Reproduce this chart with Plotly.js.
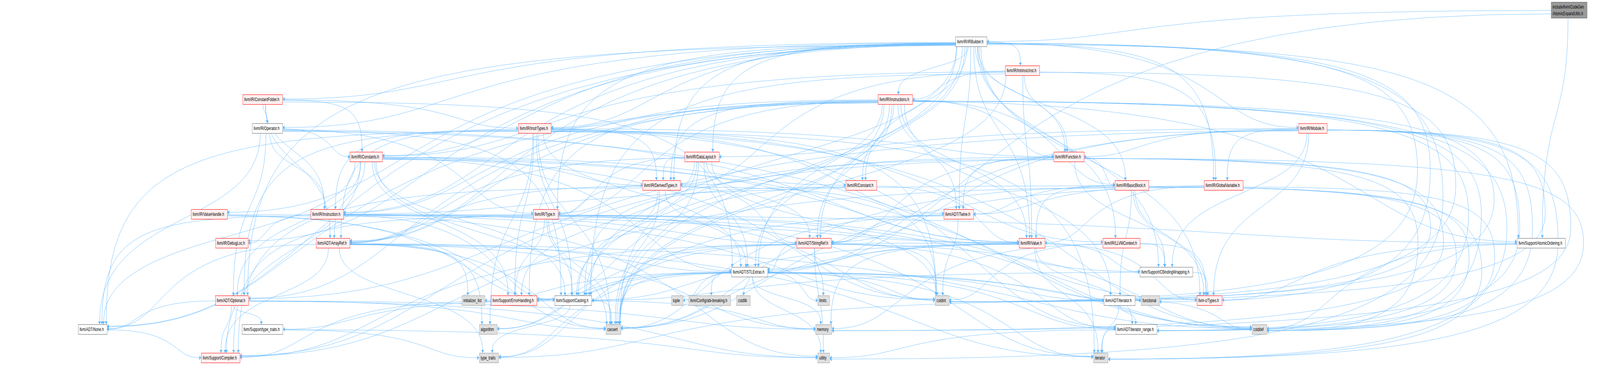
<!DOCTYPE html>
<html>
<head>
<meta charset="utf-8">
<script src="https://cdn.plot.ly/plotly-3.0.1.min.js"></script>
<style>
html, body { margin: 0; padding: 0; background: #fff; overflow: hidden; }
#graph { width: 6637px; height: 935px; transform-origin: 0 0; }
</style>
</head>
<body>
<div id="graph"></div>
<script>
// include graph of AtomicExpandUtils.h
const nodeIds = ['AEU', 'IRB', 'II', 'CF', 'INS', 'OP', 'IT', 'MOD', 'CS', 'DL', 'FN', 'DT', 'CO', 'BB', 'GV',
    'VH', 'IN', 'TY', 'TW', 'DLOC', 'AR', 'SR', 'VA', 'CTX', 'AO', 'STL', 'CBW', 'OPT', 'IL', 'EH', 'CA', 'TU',
    'ABI', 'CSL', 'LIM', 'CI', 'ITH', 'FUN', 'CT', 'NO', 'TTH', 'ALG', 'CAS', 'MEM', 'ITR', 'CD', 'COMP', 'TT',
    'UT', 'ITE'];

const nodeLabels = ['include/llvm/CodeGen<br>/AtomicExpandUtils.h', 'llvm/IR/IRBuilder.h', 'llvm/IR/IntrinsicInst.h',
    'llvm/IR/ConstantFolder.h', 'llvm/IR/Instructions.h', 'llvm/IR/Operator.h', 'llvm/IR/InstrTypes.h',
    'llvm/IR/Module.h', 'llvm/IR/Constants.h', 'llvm/IR/DataLayout.h', 'llvm/IR/Function.h',
    'llvm/IR/DerivedTypes.h', 'llvm/IR/Constant.h', 'llvm/IR/BasicBlock.h', 'llvm/IR/GlobalVariable.h',
    'llvm/IR/ValueHandle.h', 'llvm/IR/Instruction.h', 'llvm/IR/Type.h', 'llvm/ADT/Twine.h', 'llvm/IR/DebugLoc.h',
    'llvm/ADT/ArrayRef.h', 'llvm/ADT/StringRef.h', 'llvm/IR/Value.h', 'llvm/IR/LLVMContext.h',
    'llvm/Support/AtomicOrdering.h', 'llvm/ADT/STLExtras.h', 'llvm/Support/CBindingWrapping.h',
    'llvm/ADT/Optional.h', 'initializer_list', 'llvm/Support/ErrorHandling.h', 'llvm/Support/Casting.h', 'tuple',
    'llvm/Config/abi-breaking.h', 'cstdlib', 'limits', 'cstdint', 'llvm/ADT/iterator.h', 'functional',
    'llvm-c/Types.h', 'llvm/ADT/None.h', 'llvm/Support/type_traits.h', 'algorithm', 'cassert', 'memory',
    'llvm/ADT/iterator_range.h', 'cstddef', 'llvm/Support/Compiler.h', 'type_traits', 'utility', 'iterator'];

// root / plain / trunc (has more includes) / sys (system header)
const nodeKinds = ['root', 'plain', 'trunc', 'trunc', 'trunc', 'plain', 'trunc', 'trunc', 'trunc', 'trunc',
    'trunc', 'trunc', 'trunc', 'trunc', 'trunc', 'trunc', 'trunc', 'trunc', 'trunc', 'trunc', 'trunc', 'trunc',
    'trunc', 'trunc', 'plain', 'plain', 'plain', 'trunc', 'sys', 'trunc', 'plain', 'sys', 'sys', 'sys', 'sys',
    'sys', 'plain', 'sys', 'trunc', 'plain', 'plain', 'sys', 'sys', 'sys', 'plain', 'sys', 'trunc', 'sys', 'sys',
    'sys'];

// "file: included files"
const includes = [
    'AEU: STL IRB AO',
    'IRB: CT AR NO OPT STL SR TW BB CO CF CS DL DLOC DT FN GV IT IN INS II CTX MOD OP TY VA VH AO CBW CA CAS CI FUN UT',
    'II: CS DT FN GV INS VA CA CAS CI',
    'CF: AR STL CS IT IN OP',
    'INS: AR NO OPT STL SR TW ITH ITR BB CO DT FN IT IN TY VA AO CA EH CAS CD CI ITE',
    'OP: NO OPT CS IN TY VA CA CD',
    'IT: AR NO OPT STL TW ITR DT FN IN CTX CA EH ALG CAS CD CI ITE',
    'MOD: CT OPT STL SR ITR DL FN GV CBW CD CI ITE MEM',
    'CS: AR NO OPT STL CO DT VA CA COMP EH CAS CD CI',
    'DL: AR STL SR DT TY CA EH CAS CI',
    'FN: CT SR TW ITR BB DT COMP CAS CD CI MEM',
    'DT: AR STL SR TY CA COMP CAS CI',
    'CO: VA CA EH',
    'BB: CT TW ITH ITR IN VA CBW COMP CAS CD ITE',
    'GV: TW VA CAS CD',
    'VH: VA CA CAS',
    'IN: NO SR DLOC VA AO CA CI UT',
    'TY: CT AR CA CBW COMP EH CAS CI ITE',
    'TW: SR EH CAS CI',
    'AR: NO STL COMP ALG CAS CD IL ITE MEM TT',
    'SR: STL ITR COMP ALG CAS CD LIM TT UT CI',
    'VA: CT STL SR ITR CBW CA CAS ITE MEM',
    'CTX: CT CBW CI MEM',
    'AO: CT CD',
    'STL: ITH ITR ABI EH ALG CAS CD CI CSL FUN IL ITE LIM MEM TU TT UT',
    'CBW: CA CT',
    'OPT: NO COMP TTH CAS MEM UT',
    'EH: COMP',
    'CA: TTH CAS MEM TT',
    'ITH: ITR CD ITE TT',
    'NO: COMP',
    'TTH: TT UT',
    'ITR: ITE UT'
];

// dot layout: rank row of each node and its centre x (px)
const nodeRank = [0, 1, 2, 3, 3, 4, 4, 4, 5, 5, 5, 6, 6, 6, 6, 7, 7, 7, 7, 8, 8, 8, 8, 8, 8, 9, 9, 10, 10, 10, 10,
    10, 10, 10, 10, 10, 10, 10, 10, 11, 11, 11, 11, 11, 11, 11, 12, 12, 12, 12];
const nodeX = [6509, 4029, 4241, 1090, 3714, 1109, 2218, 5446, 1519, 2912, 4434, 2744, 3572, 4695, 5076, 868, 1357,
    2264, 3977, 962, 1381, 3377, 4281, 4652, 6393, 3109, 4838, 962, 1964, 2132, 2378, 2809, 2944, 3084, 3417, 3908,
    4644, 4771, 5017, 384, 1089, 2025, 2544, 3417, 4714, 5224, 915, 2028, 3417, 4566];
const rankY = [26, 107, 181, 255, 329, 402, 475, 549, 623, 697, 770, 844, 917];

const W = 6637, H = 935;
const FONT = 'Liberation Sans, Arial, Helvetica, sans-serif';
const FONT_SIZE = 13.33;
const EDGE_COLOR = '#63B8FF';

const kindStyle = {
    root: { fill: '#999999', line: '#666666' },
    plain: { fill: '#FFFFFF', line: '#666666' },
    trunc: { fill: '#FFF0F0', line: '#FF0000' },
    sys: { fill: '#E0E0E0', line: '#999999' }
};

// the window may be narrower than the drawing: squeeze it to fit
const graphEl = document.getElementById('graph');
graphEl.style.transform = 'scale(' + (window.innerWidth / W) + ',' + (window.innerHeight / H) + ')';

const ctx = document.createElement('canvas').getContext('2d');
ctx.font = FONT_SIZE + 'px "Liberation Sans"';
function textWidth(label) {
    return Math.max(...label.split('<br>').map(t => ctx.measureText(t).width));
}

const idx = {};
nodeIds.forEach((id, i) => { idx[id] = i; });
const textW = nodeLabels.map(textWidth);
const boxW = textW.map(w => w + 20);
const boxH = nodeLabels.map(l => l.includes('<br>') ? 42 : 26);

function clamp(v, lo, hi) {
    return Math.max(lo, Math.min(hi, v));
}

const ex = [], ey = [];
const ax = [], ay = [], aang = [];

function bezier(p0, p1, p2, p3, withFirst) {
    const n = 28;
    for (let i = withFirst ? 0 : 1; i <= n; i++) {
        const t = i / n, u = 1 - t;
        const b0 = u * u * u, b1 = 3 * u * u * t, b2 = 3 * u * t * t, b3 = t * t * t;
        ex.push(b0 * p0[0] + b1 * p1[0] + b2 * p2[0] + b3 * p3[0]);
        ey.push(b0 * p0[1] + b1 * p1[1] + b2 * p2[1] + b3 * p3[1]);
    }
}

function arrowAt(p3, d3) {
    ax.push(p3[0] - d3[0] * 5);
    ay.push(p3[1] - d3[1] * 5);
    aang.push(Math.atan2(d3[0], -d3[1]) * 180 / Math.PI);
}

// long edges from the right half down to the bottom rows go round the right side
let detours = 0;
function goesRound(a, b) {
    return nodeX[a] > 3600 && nodeRank[a] <= 6 && nodeRank[b] >= 10 && nodeX[b] > 3000 &&
        nodeIds[b] !== 'CT' && nodeIds[b] !== 'ITH';
}

function addDetour(a, b) {
    const sx = nodeX[a], sy = rankY[nodeRank[a]];
    const tx = nodeX[b], ty = rankY[nodeRank[b]];
    const sw = boxW[a] / 2, tw = boxW[b] / 2;
    const rx = 5880 + (detours * 53) % 740;
    detours++;
    const p0 = [sx + sw, sy + 4];
    const ym = (sy + ty) / 2;
    const m = [rx, ym];
    const p3 = [tx + tw, ty + 3];
    const pe = [p3[0] + 7, p3[1]];
    bezier(p0, [p0[0] + (rx - p0[0]) * 0.85, sy + 4], [rx, sy + (ym - sy) * 0.25], m, true);
    bezier(m, [rx, ym + (ty - ym) * 0.8], [pe[0] + (rx - pe[0]) * 0.7, ty + 3], pe, false);
    ex.push(null);
    ey.push(null);
    arrowAt(p3, [-1, 0]);
}

function addEdge(a, b) {
    if (goesRound(a, b)) {
        addDetour(a, b);
        return;
    }
    const sx = nodeX[a], sy = rankY[nodeRank[a]];
    const tx = nodeX[b], ty = rankY[nodeRank[b]];
    const sw = boxW[a] / 2, sh = boxH[a] / 2, tw = boxW[b] / 2, th = boxH[b] / 2;
    const dx = tx - sx;
    const dy = (ty - th) - (sy + sh);
    const dir = Math.sign(dx) || 1;

    let p0, d0, p3, d3;
    if (Math.abs(dx) > 3 * dy) {
        p0 = [sx + dir * sw, sy + clamp(dy * 0.015, -sh + 4, sh - 4)];
        d0 = [dir, 0];
    } else {
        p0 = [sx + clamp(dx * 0.04, -sw + 4, sw - 4), sy + sh];
        d0 = [0, 1];
    }
    if (Math.abs(dx) > 5 * dy) {
        p3 = [tx - dir * tw, ty + clamp(-dy * 0.012, -th + 5, th - 5)];
        d3 = [dir, 0];
    } else {
        p3 = [tx + clamp(-dx * 0.04, -tw + 4, tw - 4), ty - th];
        d3 = [0, 1];
    }

    // line stops at the arrowhead base
    const pe = [p3[0] - d3[0] * 7, p3[1] - d3[1] * 7];
    const spanX = Math.abs(pe[0] - p0[0]), spanY = Math.abs(pe[1] - p0[1]);
    const sideOut = d0[0] !== 0;
    const k0 = sideOut ? spanX * 0.8 : spanY * 0.5;
    const k3 = d3[1] ? spanY * (sideOut ? 0.85 : 0.6) : spanX * 0.3;
    const p1 = [p0[0] + d0[0] * k0, p0[1] + d0[1] * k0];
    const p2 = [pe[0] - d3[0] * k3, pe[1] - d3[1] * k3];

    bezier(p0, p1, p2, pe, true);
    ex.push(null);
    ey.push(null);
    arrowAt(p3, d3);
}

includes.forEach(row => {
    const [src, rest] = row.split(':');
    rest.trim().split(/\s+/).forEach(dst => addEdge(idx[src.trim()], idx[dst]));
});

const edgeTrace = {
    type: 'scatter',
    mode: 'lines',
    x: ex,
    y: ey,
    line: { color: EDGE_COLOR, width: 1 },
    hoverinfo: 'skip',
    showlegend: false
};

const arrowTrace = {
    type: 'scatter',
    mode: 'markers',
    x: ax,
    y: ay,
    marker: { symbol: 'triangle-up', size: 10, angle: aang, color: EDGE_COLOR, line: { width: 0 } },
    hoverinfo: 'skip',
    showlegend: false
};

const annotations = nodeIds.map((id, i) => {
    const st = kindStyle[nodeKinds[i]];
    return {
        x: nodeX[i],
        y: rankY[nodeRank[i]],
        xref: 'x',
        yref: 'y',
        text: nodeLabels[i],
        showarrow: false,
        align: 'left',
        font: { family: FONT, size: FONT_SIZE, color: '#000000' },
        bgcolor: st.fill,
        bordercolor: st.line,
        borderwidth: 1,
        borderpad: 5,
        width: textW[i] + 8,
        height: boxH[i] - 12
    };
});

const layout = {
    width: W,
    height: H,
    margin: { t: 0, b: 0, l: 0, r: 0 },
    paper_bgcolor: '#ffffff',
    plot_bgcolor: '#ffffff',
    xaxis: { range: [0, W], visible: false, fixedrange: true },
    yaxis: { range: [H, 0], visible: false, fixedrange: true },
    annotations: annotations,
    showlegend: false
};

Plotly.newPlot('graph', [edgeTrace, arrowTrace], layout, { displayModeBar: false, staticPlot: true });
</script>
</body>
</html>
